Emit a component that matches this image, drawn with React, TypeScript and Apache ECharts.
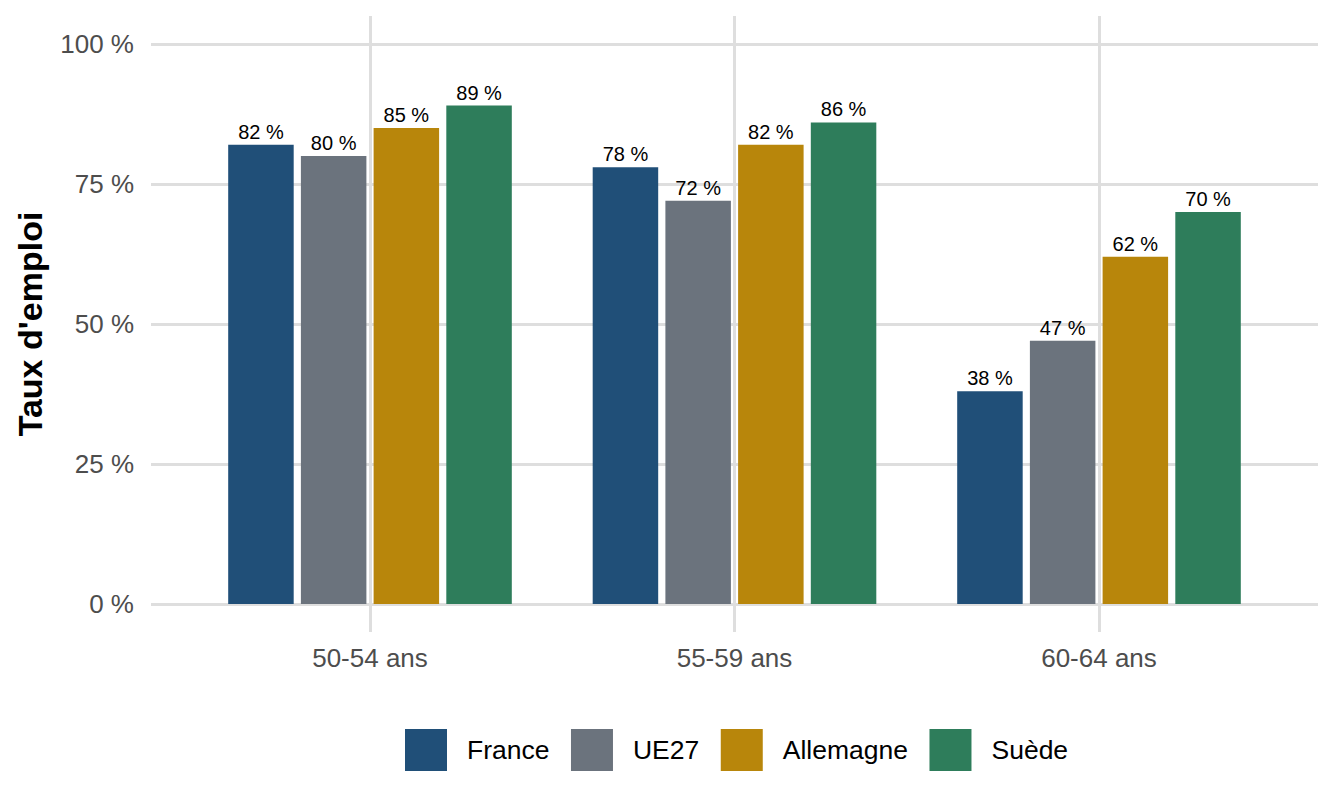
import React, { useEffect, useRef } from "react";
import * as echarts from "echarts";

const categories = ["50-54 ans", "55-59 ans", "60-64 ans"];
const seriesNames = ["France", "UE27", "Allemagne", "Suède"];
const france = [82, 78, 38];
const ue27 = [80, 72, 47];
const allemagne = [85, 82, 62];
const suede = [89, 86, 70];
const yTicks = [0, 25, 50, 75, 100];
const colors = ["#204f78", "#6b737d", "#b8860b", "#2e7d5b"];

const FONT = "'Liberation Sans', Arial, Helvetica, sans-serif";
const GRID_COLOR = "#dedede";

export default function App() {
  const ref = useRef<HTMLDivElement>(null);

  useEffect(() => {
    if (!ref.current) return;
    const chart = echarts.init(ref.current, null, { renderer: "svg" });
    const values = [france, ue27, allemagne, suede];

    const series: any[] = seriesNames.map((name, i) => ({
      name,
      type: "bar",
      xAxisIndex: 1,
      yAxisIndex: 1,
      data: values[i],
      barWidth: 65.5,
      barGap: "11%",
      itemStyle: { color: colors[i] },
      label: {
        show: true,
        position: "top",
        distance: 3,
        formatter: "{c} %",
        fontSize: 20,
        color: "#000000",
        fontFamily: FONT,
      },
      z: 3,
    }));

    series.push({
      name: "gridlines",
      type: "line",
      xAxisIndex: 1,
      yAxisIndex: 1,
      data: [],
      silent: true,
      z: 1,
      markLine: {
        silent: true,
        symbol: ["none", "none"],
        label: { show: false },
        lineStyle: { color: GRID_COLOR, width: 3, type: "solid" },
        z: 1,
        data: categories.map((c) => ({ xAxis: c })),
      },
    });

    chart.setOption({
      animation: false,
      backgroundColor: "#ffffff",
      textStyle: { fontFamily: FONT },
      grid: [
        { left: 151, right: 26, top: 44, bottom: 202, containLabel: false },
        { left: 187.75, right: 62.75, top: 16, bottom: 174, containLabel: false },
      ],
      xAxis: [
        { type: "value", gridIndex: 0, min: 0, max: 1, show: false },
        {
          type: "category",
          gridIndex: 1,
          data: categories,
          axisLine: { show: false },
          axisTick: { show: false },
          splitLine: { show: false },
          axisLabel: {
            fontSize: 26,
            color: "#4d4d4d",
            margin: 13,
            fontFamily: FONT,
          },
        },
      ],
      yAxis: [
        {
          type: "value",
          gridIndex: 0,
          min: yTicks[0],
          max: yTicks[yTicks.length - 1],
          interval: 25,
          axisLine: { show: false },
          axisTick: { show: false },
          splitLine: { show: true, lineStyle: { color: GRID_COLOR, width: 3 } },
          axisLabel: {
            formatter: "{value} %",
            fontSize: 26,
            color: "#4d4d4d",
            margin: 17,
            fontFamily: FONT,
          },
          name: "Taux d'emploi",
          nameLocation: "middle",
          nameGap: 104,
          nameTextStyle: {
            fontSize: 34,
            fontWeight: "bold",
            color: "#000000",
            fontFamily: FONT,
          },
        },
        { type: "value", gridIndex: 1, min: -5, max: 105, show: false },
      ],
      legend: {
        data: seriesNames,
        left: 405,
        top: 729,
        padding: 0,
        itemWidth: 42,
        itemHeight: 42,
        itemGap: 21.5,
        icon: "rect",
        textStyle: {
          fontSize: 26.5,
          color: "#000000",
          fontFamily: FONT,
          padding: [0, 0, 0, 15],
        },
      },
      series,
    });

    return () => {
      chart.dispose();
    };
  }, []);

  return (
    <div
      ref={ref}
      style={{ position: "fixed", left: 0, top: 0, width: 1344, height: 806, background: "#fff" }}
    />
  );
}
